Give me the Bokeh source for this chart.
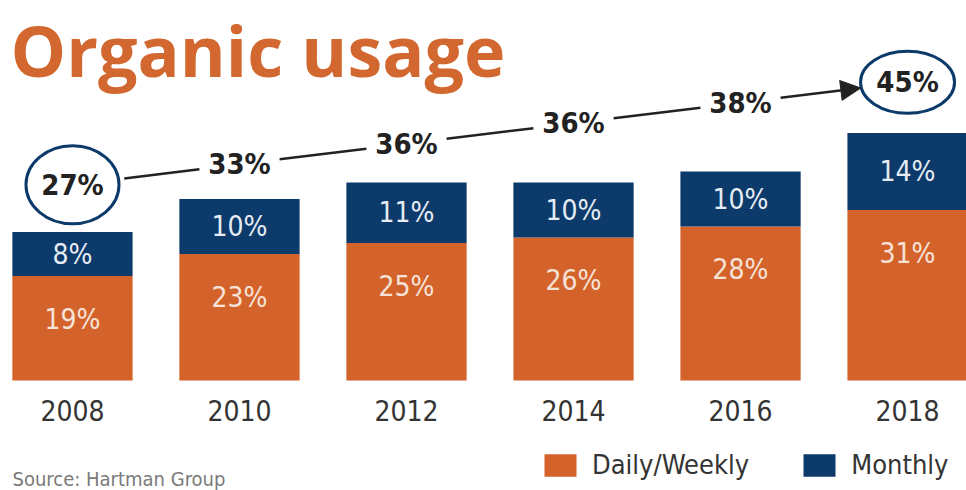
from bokeh.plotting import figure
from bokeh.models import Range1d, Label, Legend, LegendItem, Arrow, NormalHead
from bokeh.core.properties import value
from bokeh.embed import file_html
from bokeh.resources import INLINE

years = ["2008", "2010", "2012", "2014", "2016", "2018"]
daily = [19, 23, 25, 26, 28, 31]
monthly = [8, 10, 11, 10, 10, 14]
totals = [27, 33, 36, 36, 38, 45]

ORANGE = "#D4622B"
NAVY = "#0C3A6A"
DARK = "#222222"
FONT = "DejaVu Sans Condensed, Roboto, sans-serif"

W, H = 966, 490
p = figure(width=W, height=H, output_backend="svg", toolbar_location=None,
           x_range=Range1d(-0.431, 5.353), y_range=Range1d(-20, 69.1),
           min_border=0, min_border_left=0, min_border_right=0,
           min_border_top=0, min_border_bottom=0)
p.axis.visible = False
p.grid.visible = False
p.outline_line_color = None
p.background_fill_color = "white"

PX = H / (69.1 + 20)  # pixels per data unit on y

x = list(range(len(years)))
bw = 0.72

r_daily = p.vbar(x=x, bottom=0, top=daily, width=bw, fill_color=ORANGE, line_color=None)
r_month = p.vbar(x=x, bottom=daily, top=totals, width=bw, fill_color=NAVY, line_color=None)

# labels inside bars
p.text(x=x, y=[d - 43 / PX for d in daily], text=[f"{v}%" for v in daily],
       text_align="center", text_baseline="middle", text_font=value(FONT),
       text_font_size="28px", text_color="#F6E3D8")
p.text(x=x, y=[(d + t) / 2 for d, t in zip(daily, totals)], text=[f"{v}%" for v in monthly],
       text_align="center", text_baseline="middle", text_font=value(FONT),
       text_font_size="28px", text_color="#E6ECF4")

# years
p.text(x=x, y=[-30 / PX] * len(x), text=years, text_align="center", text_baseline="middle",
       text_font=value(FONT), text_font_size="28px", text_color="#333333")

# trend labels along a rising line
def trend_y(xx):
    return (380 - 133) / PX + (20.5 / PX) * (xx - 2.5)

ly = [trend_y(i) for i in x]
gap_circle = 0.31
gap_text = 0.24
x0s, y0s, x1s, y1s = [], [], [], []
for i in range(len(x) - 2):
    a = x[i] + (gap_circle if i == 0 else gap_text)
    b = x[i + 1] - gap_text
    x0s.append(a); y0s.append(trend_y(a)); x1s.append(b); y1s.append(trend_y(b))
p.segment(x0=x0s, y0=y0s, x1=x1s, y1=y1s, line_color=DARK, line_width=2.5)

a = x[-2] + gap_text
b = x[-1] - 0.28
p.add_layout(Arrow(end=NormalHead(size=20, fill_color=DARK, line_color=DARK),
                   x_start=a, y_start=trend_y(a), x_end=b, y_end=trend_y(b),
                   line_color=DARK, line_width=2.5))

p.ellipse(x=[x[0], x[-1]], y=[ly[0], ly[-1]], width=[93, 94], height=[78, 62],
          width_units="screen", height_units="screen", fill_color="white",
          line_color=NAVY, line_width=3)

p.text(x=x, y=ly, text=[f"{v}%" for v in totals], text_align="center", text_baseline="middle",
       text_font=value(FONT), text_font_size="29px", text_font_style="bold", text_color=DARK)

# title and source
p.add_layout(Label(x=10, y=H - 49, x_units="screen", y_units="screen", text="Organic usage",
                   text_font="Open Sans", text_font_size="70px", text_font_style="bold",
                   text_color="#D2682F", text_baseline="alphabetic"))
p.add_layout(Label(x=12, y=H - 478, x_units="screen", y_units="screen", text="Source: Hartman Group",
                   text_font=FONT, text_font_size="20px", text_color="#7a7a7a",
                   text_baseline="alphabetic"))

legend = Legend(items=[LegendItem(label="Daily/Weekly", renderers=[r_daily]),
                       LegendItem(label="Monthly", renderers=[r_month])],
                orientation="horizontal", location=(540, 10),
                glyph_width=40, glyph_height=28, label_standoff=12, spacing=50,
                padding=0, margin=0, border_line_color=None, background_fill_alpha=0,
                label_text_font=FONT, label_text_font_size="27px", label_text_color="#333333",
                label_height=30)
p.add_layout(legend, "center")

open("out.html", "w").write(file_html(p, INLINE))
